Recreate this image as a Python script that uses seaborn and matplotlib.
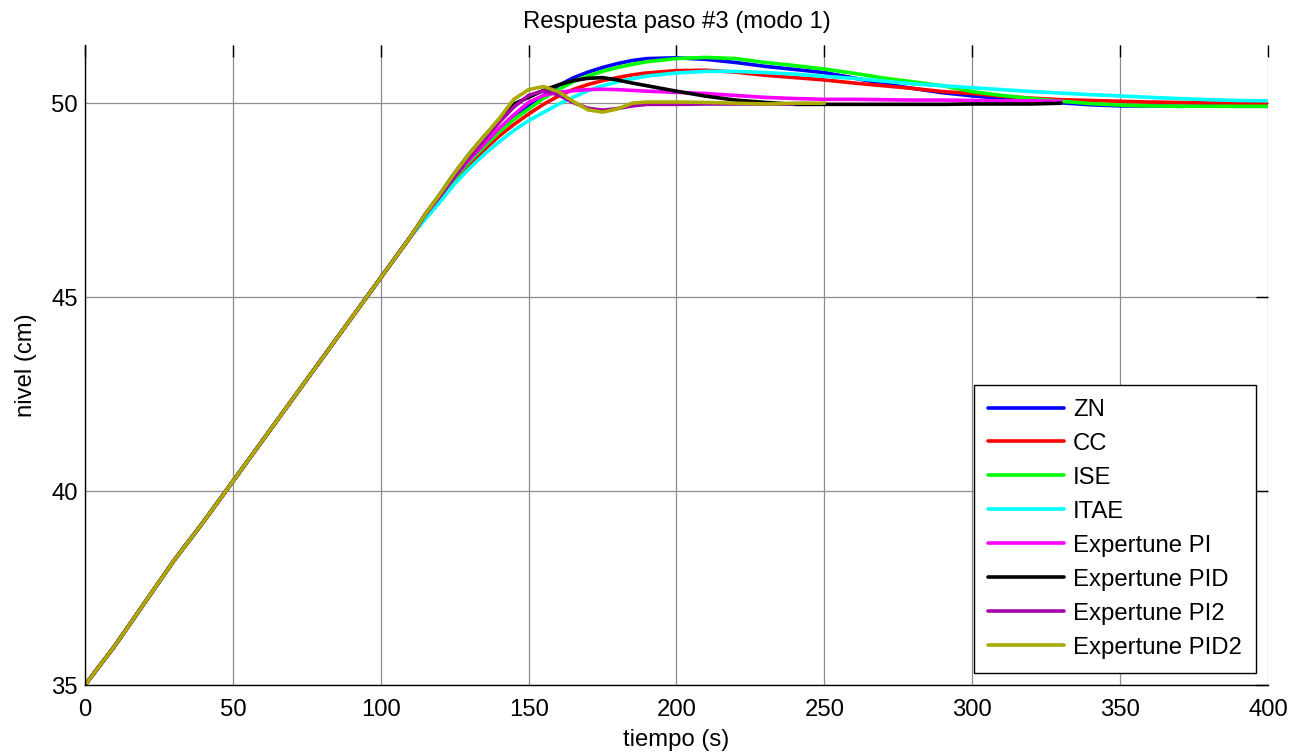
import numpy as np
import pandas as pd
import matplotlib
matplotlib.use("Agg")
import matplotlib.pyplot as plt
import seaborn as sns

# ---- data ----
t_ramp = [0, 10, 20, 30, 40, 50, 60, 70, 80, 90, 100, 110]
ramp = [35.0, 36.0, 37.1, 38.2, 39.2, 40.25, 41.3, 42.35, 43.4, 44.45, 45.5, 46.55]

t_tail = [115, 120, 125, 130, 135, 140, 145, 150, 155, 160, 165, 170, 175, 180, 185, 190,
          200, 210, 220, 230, 240, 250, 260, 270, 280, 290, 300, 310, 320, 330, 340,
          350, 360, 370, 380, 390, 400]
nan = np.nan

zn = [47.08, 47.55, 48.05, 48.5, 48.9, 49.3, 49.62, 49.92, 50.2, 50.45, 50.65, 50.8, 50.92, 51.02, 51.1, 51.15,
      51.17, 51.13, 51.05, 50.95, 50.87, 50.79, 50.65, 50.5, 50.38, 50.27, 50.19, 50.12, 50.06, 50.01, 49.96,
      49.93, 49.93, 49.92, 49.93, 49.92, 49.92]
cc = [47.05, 47.5, 48.0, 48.42, 48.8, 49.15, 49.45, 49.72, 49.97, 50.18, 50.35, 50.48, 50.58, 50.66, 50.73, 50.78,
      50.84, 50.85, 50.8, 50.72, 50.66, 50.6, 50.52, 50.45, 50.38, 50.3, 50.25, 50.18, 50.13, 50.09, 50.07,
      50.05, 50.03, 50.02, 50.01, 50.0, 50.0]
ise = [47.08, 47.55, 48.05, 48.5, 48.88, 49.25, 49.58, 49.85, 50.12, 50.35, 50.55, 50.7, 50.82, 50.92, 51.0, 51.07,
       51.15, 51.18, 51.15, 51.05, 50.97, 50.88, 50.77, 50.65, 50.55, 50.45, 50.3, 50.2, 50.12, 50.05, 49.99,
       49.95, 49.93, 49.92, 49.92, 49.92, 49.92]
itae = [47.0, 47.45, 47.92, 48.32, 48.68, 49.0, 49.3, 49.55, 49.76, 49.97, 50.15, 50.32, 50.45, 50.55, 50.63, 50.7,
        50.78, 50.82, 50.82, 50.79, 50.75, 50.69, 50.64, 50.57, 50.5, 50.45, 50.4, 50.35, 50.3, 50.26, 50.22,
        50.19, 50.15, 50.12, 50.09, 50.07, 50.06]
pi = [47.12, 47.6, 48.1, 48.55, 48.95, 49.35, 49.7, 50.02, 50.2, 50.28, 50.32, 50.35, 50.36, 50.35, 50.33, 50.31,
      50.28, 50.25, 50.2, 50.15, 50.12, 50.1, 50.1, 50.09, 50.08, 50.08, 50.07, 50.06, 50.06, 50.05, nan,
      nan, nan, nan, nan, nan, nan]
pid = [47.13, 47.65, 48.2, 48.7, 49.15, 49.55, 49.98, 50.15, 50.33, 50.47, 50.58, 50.64, 50.66, 50.6, 50.52, 50.45,
       50.31, 50.18, 50.08, 50.02, 49.97, 49.97, 49.97, 49.97, 49.97, 49.97, 49.98, 49.98, 49.98, 50.0, nan,
       nan, nan, nan, nan, nan, nan]
pi2 = [47.12, 47.6, 48.1, 48.6, 49.05, 49.5, 49.9, 50.2, 50.32, 50.22, 50.02, 49.87, 49.82, 49.86, 49.93, 49.97,
       49.97, 49.98, 49.98, 49.98, 49.98, nan, nan, nan, nan, nan, nan, nan, nan, nan, nan,
       nan, nan, nan, nan, nan, nan]
pid2 = [47.13, 47.65, 48.2, 48.7, 49.15, 49.6, 50.1, 50.35, 50.43, 50.3, 50.05, 49.83, 49.77, 49.85, 50.0, 50.03,
        50.03, 50.02, 50.0, 49.98, 50.0, 50.0, nan, nan, nan, nan, nan, nan, nan, nan, nan,
        nan, nan, nan, nan, nan, nan]

labels = ["ZN", "CC", "ISE", "ITAE", "Expertune PI", "Expertune PID", "Expertune PI2", "Expertune PID2"]
colors = ["#0000ff", "#ff0000", "#00ff00", "#00ffff", "#ff00ff", "#000000", "#a600a6", "#aaaa00"]
tails = [zn, cc, ise, itae, pi, pid, pi2, pid2]

x_ticks = [0, 50, 100, 150, 200, 250, 300, 350, 400]
y_ticks = [35, 40, 45, 50]

# ---- long-form table ----
rows = []
for lab, tail in zip(labels, tails):
    for tt, vv in zip(t_ramp + t_tail, ramp + tail):
        if not np.isnan(vv):
            rows.append((lab, tt, vv))
df = pd.DataFrame(rows, columns=["serie", "tiempo", "nivel"])

sns.set_style("white")
plt.rcParams["font.family"] = ["Liberation Sans", "DejaVu Sans"]
plt.rcParams["text.color"] = "black"
plt.rcParams["axes.labelcolor"] = "black"
plt.rcParams["xtick.color"] = "black"
plt.rcParams["ytick.color"] = "black"
fs = 17.2

fig = plt.figure(figsize=(13.01, 7.54), dpi=100)
ax = fig.add_axes([0.0653, 0.0915, 0.9093, 0.8488])

sns.lineplot(data=df, x="tiempo", y="nivel", hue="serie", hue_order=labels,
             palette=dict(zip(labels, colors)), estimator=None, sort=False,
             linewidth=2.6, ax=ax, legend=False)

ax.set_xlim(0, 400)
ax.set_ylim(35, 51.5)
ax.set_xticks(x_ticks)
ax.set_yticks(y_ticks)
ax.set_xticklabels([str(v) for v in x_ticks], fontsize=fs, color="black")
ax.set_yticklabels([str(v) for v in y_ticks], fontsize=fs, color="black")
ax.grid(True, color="#8c8c8c", linewidth=0.9)
ax.set_axisbelow(True)
ax.tick_params(direction="in", top=True, right=True, length=8.5, width=1, color="black")
ax.tick_params(axis="y", pad=5)
ax.tick_params(axis="x", pad=10)
for s in ["top", "right"]:
    ax.spines[s].set_visible(False)
for s in ["left", "bottom"]:
    ax.spines[s].set_color("black")
    ax.spines[s].set_linewidth(1.0)

ax.set_title("Respuesta paso #3 (modo 1)", fontsize=fs, pad=12, color="black")
ax.set_xlabel("tiempo (s)", fontsize=fs, labelpad=6, color="black")
ax.set_ylabel("nivel (cm)", fontsize=fs, labelpad=10.5, color="black")

handles = [plt.Line2D([], [], color=c, linewidth=2.6) for c in colors]
leg = ax.legend(handles, labels, loc="lower right", bbox_to_anchor=(0.9899, 0.019),
                borderaxespad=0, fontsize=fs, frameon=True, fancybox=False,
                handlelength=3.2, handletextpad=0.35, labelspacing=0.5,
                borderpad=0.6, edgecolor="black")
leg.get_frame().set_linewidth(1.0)
leg.get_frame().set_alpha(1)
for txt in leg.get_texts():
    txt.set_color("black")

fig.savefig("out.png", dpi=100, facecolor="white")
